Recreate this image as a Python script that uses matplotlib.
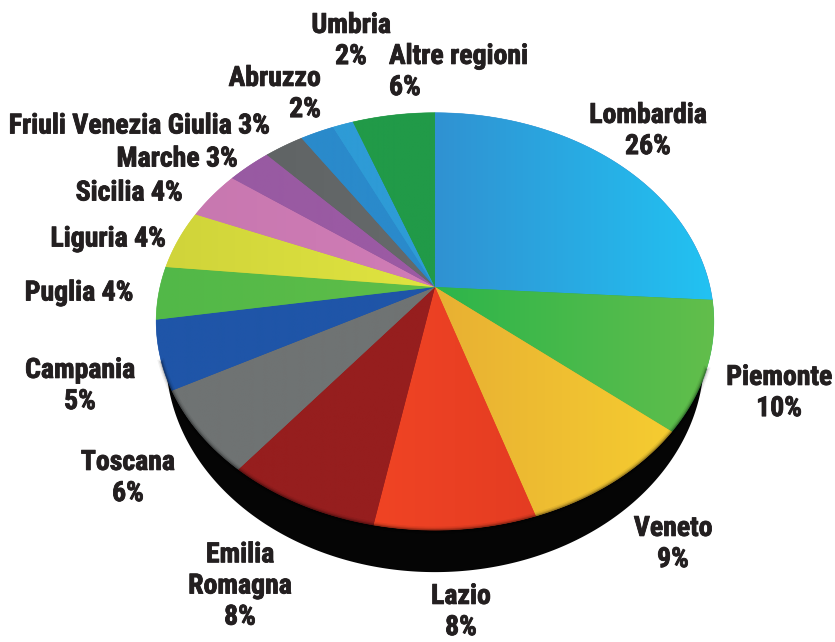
import numpy as np
import matplotlib
matplotlib.use("Agg")
import matplotlib.pyplot as plt
import matplotlib.patheffects as pe
from matplotlib.colors import to_rgb

plt.rcParams['font.family'] = ['Roboto Condensed', 'Roboto', 'DejaVu Sans']

regions = ["Lombardia", "Piemonte", "Veneto", "Lazio", "Emilia Romagna", "Toscana", "Campania",
           "Puglia", "Liguria", "Sicilia", "Marche", "Friuli Venezia Giulia", "Abruzzo", "Umbria",
           "Altre regioni"]
# size of the slices as they are drawn
shares = [26, 10, 9, 8, 7.7, 6.5, 5.3, 4.1, 4.6, 3.8, 3, 2.7, 2.3, 1.4, 5.6]
labels = ["Lombardia\n26%", "Piemonte\n10%", "Veneto\n9%", "Lazio\n8%", "Emilia\nRomagna\n8%",
          "Toscana\n6%", "Campania\n5%", "Puglia 4%", "Liguria 4%", "Sicilia 4%", "Marche 3%",
          "Friuli Venezia Giulia 3%", "Abruzzo\n2%", "Umbria\n2%", "Altre regioni\n6%"]

colors_a = ["#3092d2", "#2db54a", "#e8b033", "#f04424", "#961e1e", "#6f7373", "#1f55a8", "#52b848",
            "#d0d43a", "#c878b0", "#985aa2", "#606465", "#2a8acb", "#2e9bd6", "#219a48"]
colors_b = ["#22c2f2", "#62be4c", "#f5cc30", "#e43c22", "#961e1e", "#6f7373", "#1f55a8", "#5fbe48",
            "#e0e440", "#d07cb6", "#9c5aa4", "#666a6b", "#2a8acb", "#2e9bd6", "#219a48"]

# where the label sits (pixels) and which side the text hangs from
label_x = [648, 779, 673, 461, 240, 128, 80, 79, 108, 129, 177, 139, 321, 351, 389]
label_y = [131, 393, 544, 612, 586, 478, 386, 293, 239, 193, 159, 126, 94, 41, 72]
label_ha = ["center"]*12 + ["right", "center", "left"]

cx, cy = 435, 287
A, B, k = 275, 203, 0.165


def project(x, y):
    w = 1 + k*y
    return cx + A*x/w, cy - B*y/w


fig = plt.figure(figsize=(8.35, 6.42), dpi=100)
ax = fig.add_axes([0, 0, 1, 1])

# black side of the disc
t = np.radians(np.linspace(0, 360, 721))
px, py = project(np.sin(t), np.cos(t))
ax.fill(435 + (px - 435)*0.965, py + 42 - (py.max() - py)*0.03, color="#050505", lw=0)
low = (t > np.radians(112)) & (t < np.radians(250))

edges = np.concatenate([[0], np.cumsum(shares)]) / np.sum(shares) * 2*np.pi

for i in range(len(shares)):
    th = np.linspace(edges[i], edges[i+1], 80)
    rx, ry = project(np.sin(th), np.cos(th))
    xs = np.concatenate([[cx], rx])
    ys = np.concatenate([[cy], ry])
    c1 = np.array(to_rgb(colors_a[i]))
    c2 = np.array(to_rgb(colors_b[i]))
    patch = ax.fill(xs, ys, color=colors_a[i], lw=0.4)[0]
    f = np.linspace(0, 1, 64)[None, :, None]
    grad = c1[None, None, :]*(1 - f) + c2[None, None, :]*f
    im = ax.imshow(grad, extent=[xs.min(), xs.max(), ys.max(), ys.min()], aspect='auto',
                   interpolation='bilinear', zorder=2)
    im.set_clip_path(patch)

# soft dark edge along the front of the rim
for lw, al in [(5, 0.06), (3, 0.1), (1.5, 0.2)]:
    ax.plot(px[low], py[low], color="black", lw=lw, alpha=al, zorder=3)

for i in range(len(labels)):
    ax.text(label_x[i], label_y[i], labels[i], ha=label_ha[i], va="center", ma=label_ha[i],
            fontsize=20, fontweight="bold", color="#231f20", linespacing=1.2, zorder=4,
            path_effects=[pe.withStroke(linewidth=0.6, foreground="#231f20")])

ax.set_xlim(0, 835)
ax.set_ylim(642, 0)
ax.axis("off")
fig.savefig("out.png", dpi=100, facecolor="white")
